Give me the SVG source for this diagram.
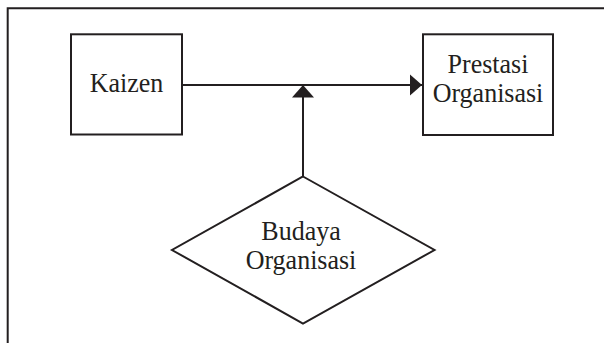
<svg xmlns="http://www.w3.org/2000/svg" width="604" height="343" viewBox="0 0 604 343">
<style>
.frame{fill:none;stroke:#231f20;stroke-width:2}
.node{fill:#fff;stroke:#231f20;stroke-width:2}
.edge{fill:none;stroke:#231f20;stroke-width:2}
.lbl{font-family:"Liberation Serif","Times New Roman",serif;font-size:26px;fill:#231f20;text-anchor:middle}
</style>
<defs>
<marker id="ah" markerUnits="userSpaceOnUse" markerWidth="14" markerHeight="24" refX="12.5" refY="11" orient="auto">
<path d="M0,0 L12.5,11 L0,22 Z" fill="#231f20"/>
</marker>
</defs>
<rect width="604" height="343" fill="#fff"/>
<path class="frame" d="M7.7,343 V8.3 H604"/>
<g id="connectors">
<line class="edge" x1="182" y1="85" x2="422" y2="85" marker-end="url(#ah)"/>
<line class="edge" x1="303" y1="176.5" x2="303" y2="85" marker-end="url(#ah)"/>
</g>
<g id="kaizen">
<rect class="node" x="71" y="34.3" width="111" height="100.2"/>
<text class="lbl" transform="translate(126.5,92) scale(1,1.06)">Kaizen</text>
</g>
<g id="prestasi">
<rect class="node" x="423" y="34.3" width="130" height="100.7"/>
<text class="lbl" transform="translate(488,73) scale(1,1.06)">Prestasi</text>
<text class="lbl" transform="translate(488,101.5) scale(1,1.06)">Organisasi</text>
</g>
<g id="budaya">
<polygon class="node" points="303,176.5 434.5,250 303,323.5 172,250"/>
<text class="lbl" transform="translate(301,240) scale(1,1.06)">Budaya</text>
<text class="lbl" transform="translate(301,268.5) scale(1,1.06)">Organisasi</text>
</g>
</svg>
